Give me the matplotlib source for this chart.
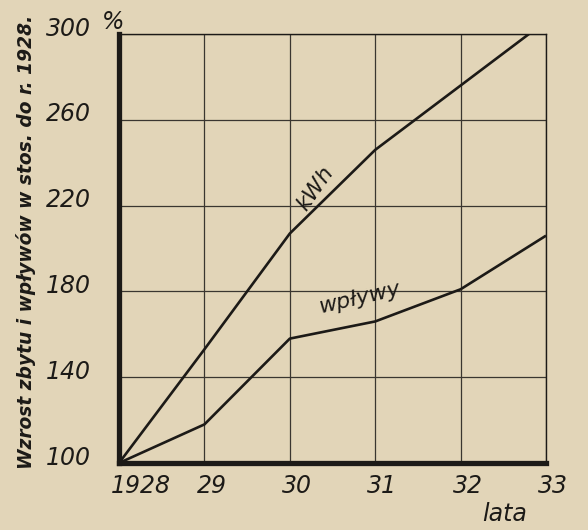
import matplotlib
matplotlib.use('Agg')
import matplotlib.pyplot as plt
import matplotlib.transforms as mtransforms

years = [1928, 1929, 1930, 1931, 1932, 1933]
year_labels = ['1928', '29', '30', '31', '32', '33']
kwh = [100, 153, 207, 246, 276, 306]
wplywy = [100, 118, 158, 166, 181, 206]
y_ticks = [100, 140, 180, 220, 260, 300]

bg = '#e2d5b8'
ink = '#1c1a17'
font = 'DejaVu Sans'

fig = plt.figure(figsize=(5.88, 5.30), dpi=100, facecolor=bg)
ax = fig.add_axes([0.2024, 0.1264, 0.7262, 0.8094], facecolor=bg)

ax.plot(years, kwh, color=ink, lw=1.9, solid_capstyle='butt')
ax.plot(years, wplywy, color=ink, lw=1.9, solid_capstyle='butt')

ax.set_xlim(1928, 1933)
ax.set_ylim(100, 300)
ax.set_xticks(years)
ax.set_yticks(y_ticks)
ax.grid(True, color='#3a3630', lw=0.9)
ax.tick_params(length=0)
ax.tick_params(axis='x', pad=8)
ax.tick_params(axis='y', pad=20)

ax.set_xticklabels(year_labels, fontsize=17, style='italic', family=font, color=ink)
ax.set_yticklabels([str(v) for v in y_ticks], fontsize=17, style='italic', family=font, color=ink)

# hand-lettered labels sit a bit off the grid lines
dx = mtransforms.ScaledTranslation(-8 / 100, 0, fig.dpi_scale_trans)
for lab in ax.get_xticklabels():
    lab.set_horizontalalignment('left')
    lab.set_transform(lab.get_transform() + dx)
dy = mtransforms.ScaledTranslation(0, 8 / 100, fig.dpi_scale_trans)
for lab in ax.get_yticklabels():
    lab.set_transform(lab.get_transform() + dy)

for side in ['top', 'right']:
    ax.spines[side].set_linewidth(1.0)
    ax.spines[side].set_color(ink)
for side in ['left', 'bottom']:
    ax.spines[side].set_linewidth(3.8)
    ax.spines[side].set_color(ink)

ax.text(1930.3, 228, 'kWh', rotation=55, fontsize=16, style='italic', family=font,
        color=ink, ha='center', va='center')
ax.text(1930.82, 177, 'wpływy', rotation=13, fontsize=16, style='italic', family=font,
        color=ink, ha='center', va='center')

fig.text(0.193, 0.958, '%', fontsize=17, style='italic', family=font, color=ink,
         ha='center', va='center')
fig.text(0.859, 0.03, 'lata', fontsize=17, style='italic', family=font, color=ink,
         ha='center', va='center')
ylab = fig.text(0.045, 0.543, 'Wzrost zbytu i wpływów w stos. do r. 1928.', rotation=90,
                fontsize=14, style='italic', weight='bold', family=font, color=ink,
                ha='center', va='center')

# shrink the side title so it spans the same height as in the print
fig.canvas.draw()
h = ylab.get_window_extent().height
ylab.set_fontsize(14 * 455 / h)

fig.savefig('out.png', dpi=100, facecolor=bg)
